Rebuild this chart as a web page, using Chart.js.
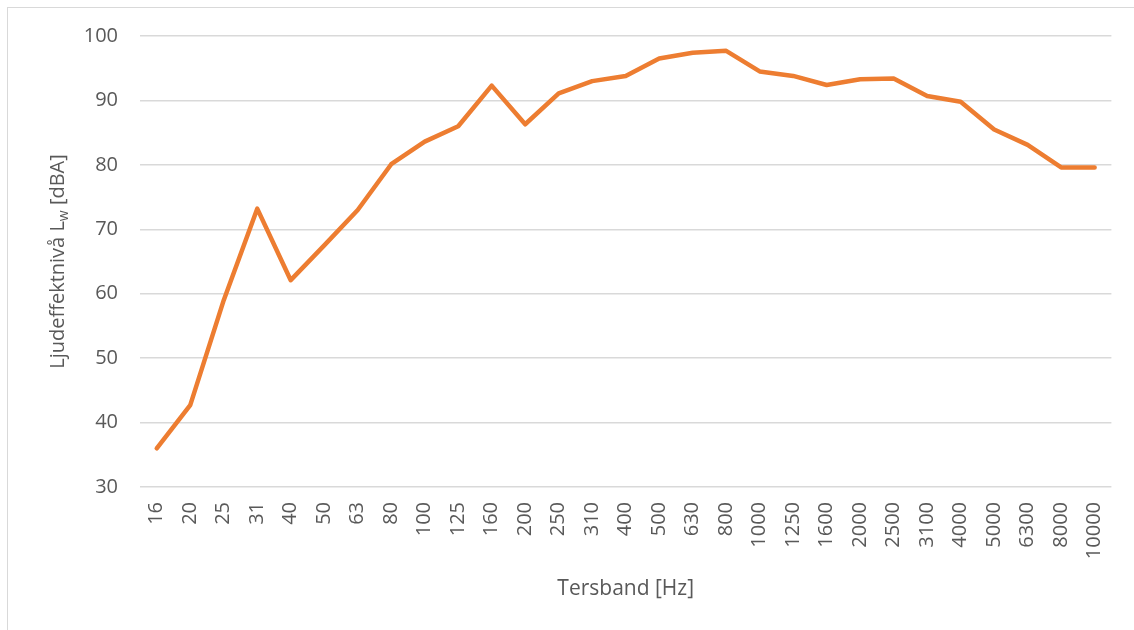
<!DOCTYPE html>
<html>
<head>
<meta charset="utf-8">
<script src="https://cdn.jsdelivr.net/npm/chart.js@4/dist/chart.umd.min.js"></script>
<style>
  html, body { margin: 0; padding: 0; background: #fff; overflow: hidden; }
  #wrap { position: relative; width: 1134px; height: 630px; }
  #frame { position: absolute; left: 7px; top: 7px; width: 1140px; height: 640px; border: 1px solid #d9d9d9; box-sizing: border-box; }
  canvas { position: absolute; left: 0; top: 0; }
</style>
</head>
<body>
<div id="wrap">
  <div id="frame"></div>
  <canvas id="c" width="1134" height="630"></canvas>
</div>
<script>
const categories = ["16","20","25","31","40","50","63","80","100","125","160","200","250","310","400","500","630","800","1000","1250","1600","2000","2500","3100","4000","5000","6300","8000","10000"];
const levels = [36.0, 42.7, 59.0, 73.2, 62.1, 67.5, 73.0, 80.1, 83.6, 86.0, 92.3, 86.3, 91.1, 93.0, 93.8, 96.5, 97.4, 97.7, 94.5, 93.8, 92.4, 93.3, 93.4, 90.7, 89.8, 85.5, 83.1, 79.6, 79.6];
const yMin = 30, yMax = 100, yStep = 10;
const xTitle = "Tersband [Hz]";
const yTitleParts = ["Ljudeffektnivå L", "w", " [dBA]"];

const textColor = "#595959";
const fontFamily = "'Open Sans', 'DejaVu Sans', sans-serif";

const yTitlePlugin = {
  id: 'yTitle',
  afterDraw(chart) {
    const ctx = chart.ctx;
    const area = chart.chartArea;
    const cy = (area.top + area.bottom) / 2;
    const big = "20px " + fontFamily;
    const small = "14px " + fontFamily;
    ctx.save();
    ctx.fillStyle = textColor;
    ctx.textBaseline = 'alphabetic';
    ctx.textAlign = 'left';
    ctx.font = big;
    const w0 = ctx.measureText(yTitleParts[0]).width;
    const w2 = ctx.measureText(yTitleParts[2]).width;
    ctx.font = small;
    const w1 = ctx.measureText(yTitleParts[1]).width;
    const total = w0 + w1 + w2;
    ctx.translate(64, cy);
    ctx.rotate(-Math.PI / 2);
    let x = -total / 2;
    ctx.font = big;
    ctx.fillText(yTitleParts[0], x, 0);
    x += w0;
    ctx.font = small;
    ctx.fillText(yTitleParts[1], x, 4);
    x += w1;
    ctx.font = big;
    ctx.fillText(yTitleParts[2], x, 0);
    ctx.restore();
  }
};

new Chart(document.getElementById('c'), {
  type: 'line',
  data: {
    labels: categories,
    datasets: [{
      data: levels,
      borderColor: '#ED7D31',
      backgroundColor: '#ED7D31',
      borderWidth: 4.5,
      pointRadius: 0,
      pointHoverRadius: 0,
      tension: 0,
      borderCapStyle: 'round',
      borderJoinStyle: 'round',
      fill: false
    }]
  },
  options: {
    responsive: false,
    animation: false,
    devicePixelRatio: 1,
    layout: { padding: { top: 36, right: 21, bottom: 28, left: 0 } },
    plugins: {
      legend: { display: false },
      tooltip: { enabled: false },
      title: { display: false }
    },
    scales: {
      x: {
        offset: true,
        grid: { display: false, drawTicks: false },
        border: { display: false },
        ticks: {
          minRotation: 90,
          maxRotation: 90,
          autoSkip: false,
          padding: 15,
          color: textColor,
          font: { family: fontFamily, size: 20 }
        },
        title: {
          display: true,
          text: xTitle,
          color: textColor,
          font: { family: fontFamily, size: 21 },
          padding: { top: 0, bottom: 0 }
        },
        afterFit(scale) { scale.height = 630 - 487 - 28; }
      },
      y: {
        min: yMin,
        max: yMax,
        grid: { color: '#d9d9d9', lineWidth: 1.5, drawTicks: false, tickLength: 0 },
        border: { display: false },
        ticks: {
          stepSize: yStep,
          padding: 22,
          color: textColor,
          font: { family: fontFamily, size: 20 }
        },
        afterFit(scale) { scale.width = 140; }
      }
    }
  },
  plugins: [yTitlePlugin]
});
</script>
</body>
</html>
